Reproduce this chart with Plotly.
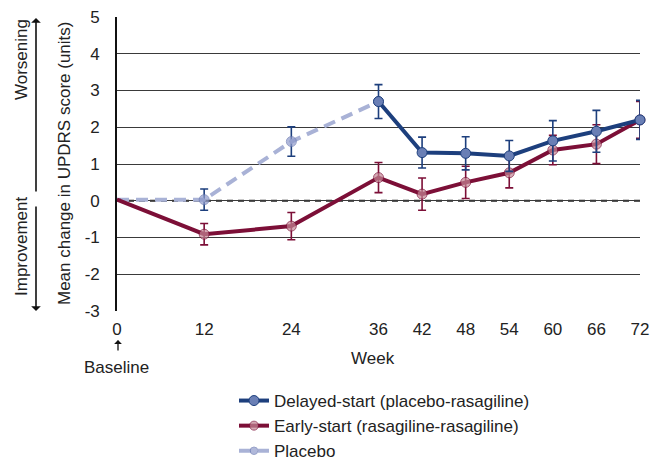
import plotly.graph_objects as go

# Weeks on study
week_ticks = [0, 12, 24, 36, 42, 48, 54, 60, 66, 72]

# Placebo phase (weeks 0-36)
placebo_weeks = [0, 12, 24, 36]
placebo_mean = [0.03, 0.03, 1.61, 2.70]
placebo_err = [None, 0.29, 0.40, None]

# Delayed-start (placebo -> rasagiline, weeks 36-72)
delayed_weeks = [36, 42, 48, 54, 60, 66, 72]
delayed_mean = [2.70, 1.31, 1.29, 1.22, 1.63, 1.89, 2.20]
delayed_err = [0.46, 0.42, 0.45, 0.42, 0.55, 0.57, 0.53]

# Early-start (rasagiline -> rasagiline, weeks 0-72)
early_weeks = [0, 12, 24, 36, 42, 48, 54, 60, 66, 72]
early_mean = [0.03, -0.91, -0.69, 0.63, 0.18, 0.50, 0.76, 1.38, 1.54, 2.20]
early_err = [None, 0.29, 0.37, 0.41, 0.44, 0.44, 0.41, 0.40, 0.53, 0.50]

y_ticks = [-3, -2, -1, 0, 1, 2, 3, 4, 5]

NAVY = "#1d3f7d"
MAROON = "#7c0f37"
PLACEBO = "#a9b2d6"
FONT = "Liberation Sans"
FS = 17

W, H = 651, 460
L, R, T, B = 117, 640, 17, 311


def px(xp):
    return (xp - L) / (R - L)


def py(yp):
    return (B - yp) / (B - T)


def sizes(xs):
    return [0 if x == 0 else 10 for x in xs]


fig = go.Figure()

fig.add_trace(go.Scatter(
    x=placebo_weeks, y=placebo_mean, mode="lines+markers", name="Placebo",
    line=dict(color=PLACEBO, width=4, dash="12px,7px"),
    marker=dict(size=sizes(placebo_weeks), color="#8f9bcb",
                line=dict(color="#6d7bb3", width=1)),
    error_y=dict(type="data", array=placebo_err, visible=True,
                 color=NAVY, thickness=1.6, width=4),
    cliponaxis=False,
))

fig.add_trace(go.Scatter(
    x=early_weeks, y=early_mean, mode="lines+markers",
    name="Early-start (rasagiline-rasagiline)",
    line=dict(color=MAROON, width=4),
    marker=dict(size=sizes(early_weeks), color="#c48795",
                line=dict(color=MAROON, width=1)),
    error_y=dict(type="data", array=early_err, visible=True,
                 color=MAROON, thickness=1.6, width=4),
    cliponaxis=False,
))

fig.add_trace(go.Scatter(
    x=delayed_weeks, y=delayed_mean, mode="lines+markers",
    name="Delayed-start (placebo-rasagiline)",
    line=dict(color=NAVY, width=4),
    marker=dict(size=10, color="#6a7fb5",
                line=dict(color=NAVY, width=1)),
    error_y=dict(type="data", array=delayed_err, visible=True,
                 color=NAVY, thickness=1.6, width=4),
    cliponaxis=False,
))

# zero reference line
fig.add_shape(type="line", xref="paper", yref="y", x0=0, x1=1, y0=0, y1=0,
              line=dict(color="#222222", width=2, dash="6px,5px"), layer="below")


def label(text, xp, yp, angle=0):
    return dict(text=text, x=px(xp), y=py(yp), xref="paper", yref="paper",
                xanchor="center", yanchor="middle", showarrow=False,
                textangle=angle, font=dict(size=FS))


def arrow(xp, yp, dy, width):
    return dict(text="", x=px(xp), y=py(yp), xref="paper", yref="paper",
                showarrow=True, ax=0, ay=dy, arrowhead=1, arrowsize=1,
                arrowwidth=width, arrowcolor="#111111")


annotations = [
    label("Week", 373, 358),
    label("Baseline", 116, 367),
    arrow(118, 340, 12, 1.3),
    label("Mean change in UPDRS score (units)", 64, 164, -90),
    label("Worsening", 21, 60, -90),
    label("Improvement", 21, 247, -90),
    arrow(36, 18, 175, 1.6),
    arrow(36, 311, -106, 1.6),
]

fig.update_layout(
    width=W, height=H,
    margin=dict(l=L, r=W - R, t=T, b=H - B, autoexpand=False),
    paper_bgcolor="white", plot_bgcolor="white",
    font=dict(family=FONT, size=FS, color="#222222"),
    showlegend=True,
    legend=dict(
        x=px(234), y=py(383), xanchor="left", yanchor="top",
        traceorder="reversed", font=dict(size=FS), itemwidth=30,
        bgcolor="rgba(0,0,0,0)",
    ),
    annotations=annotations,
    xaxis=dict(
        range=[0, 72], tickvals=week_ticks, ticktext=[str(w) for w in week_ticks],
        showgrid=False, zeroline=False, showline=False, ticks="",
        ticklabelstandoff=6,
    ),
    yaxis=dict(
        range=[-3, 5], tickvals=y_ticks, ticktext=[str(v) for v in y_ticks],
        showgrid=True, gridcolor="#3a3a3a", gridwidth=1.3, zeroline=False,
        showline=True, linecolor="#111111", linewidth=1.6, ticks="",
        ticklabelstandoff=12,
    ),
)

fig.write_html("out.html")
